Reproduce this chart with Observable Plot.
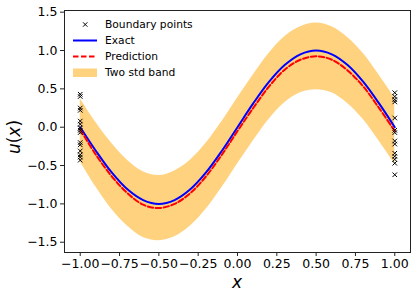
<!DOCTYPE html>
<html>
<head>
<meta charset="utf-8">
<script src="https://cdn.jsdelivr.net/npm/d3@7"></script>
<script src="https://cdn.jsdelivr.net/npm/@observablehq/plot@0.6"></script>
<style>
  html, body { margin: 0; padding: 0; background: #fff; }
  #chart { position: relative; width: 416px; height: 297px; }
</style>
</head>
<body>
<div id="chart"></div>
<script>
// x grid
const xs = [-1.0, -0.9, -0.8, -0.7, -0.6, -0.5, -0.4, -0.3, -0.2, -0.1, 0.0,
            0.1, 0.2, 0.3, 0.4, 0.5, 0.6, 0.7, 0.8, 0.9, 1.0];
// exact solution
const exactU = [0.00, -0.31, -0.59, -0.81, -0.95, -1.00, -0.95, -0.81, -0.59, -0.31, 0.00,
                0.31, 0.59, 0.81, 0.95, 1.00, 0.95, 0.81, 0.59, 0.31, 0.00];
// mean prediction
const predU = [-0.03, -0.36, -0.64, -0.86, -1.01, -1.055, -1.00, -0.86, -0.64, -0.36, -0.05,
               0.25, 0.53, 0.75, 0.88, 0.925, 0.88, 0.74, 0.53, 0.25, -0.05];
// two-std band
const bandLow = [-0.45, -0.78, -1.07, -1.29, -1.44, -1.48, -1.43, -1.29, -1.07, -0.79, -0.48,
                 -0.18, 0.10, 0.32, 0.45, 0.49, 0.45, 0.31, 0.10, -0.18, -0.48];
const bandHigh = [0.37, 0.06, -0.21, -0.43, -0.58, -0.63, -0.57, -0.43, -0.21, 0.07, 0.38,
                  0.68, 0.96, 1.18, 1.31, 1.36, 1.31, 1.17, 0.96, 0.68, 0.38];
// boundary observations
const bndX = [-1, -1, -1, -1, -1, -1, -1, -1, -1, -1, -1, -1, -1, -1, -1,
              1, 1, 1, 1, 1, 1, 1, 1, 1, 1, 1, 1, 1, 1];
const bndU = [0.43, 0.40, 0.25, 0.22, 0.08, 0.04, -0.01, -0.04, -0.07, -0.20, -0.23, -0.31, -0.36, -0.39, -0.43,
              0.45, 0.40, 0.36, 0.33, 0.12, -0.04, -0.07, -0.18, -0.22, -0.34, -0.38, -0.42, -0.47, -0.62];

const xTicks = [-1, -0.75, -0.5, -0.25, 0, 0.25, 0.5, 0.75, 1];
const yTicks = [-1.5, -1.0, -0.5, 0.0, 0.5, 1.0, 1.5];

const curve = xs.map((x, i) => ({x, exact: exactU[i], pred: predU[i], lo: bandLow[i], hi: bandHigh[i]}));
const pts = bndX.map((x, i) => ({x, u: bndU[i]}));

const W = 416, H = 297;
const fmtX = d3.format(".2f"), fmtY = d3.format(".1f");

const plot = Plot.plot({
  width: W, height: H,
  marginLeft: 64, marginRight: 6, marginTop: 10, marginBottom: 45,
  style: {fontFamily: "DejaVu Sans", fontSize: "12.5px", color: "#000", background: "#fff"},
  x: {domain: [-1.1, 1.1]},
  y: {domain: [-1.634, 1.522]},
  marks: [
    Plot.areaY(curve, {x: "x", y1: "lo", y2: "hi", fill: "#FFD280", curve: "catmull-rom"}),
    Plot.line(curve, {x: "x", y: "exact", stroke: "#0000FF", strokeWidth: 2, curve: "catmull-rom"}),
    Plot.line(curve, {x: "x", y: "pred", stroke: "#FF0000", strokeWidth: 2, strokeDasharray: "5.5,2.5", curve: "catmull-rom"}),
    Plot.dot(pts, {x: "x", y: "u", symbol: "times", r: 2.2, stroke: "#000", strokeWidth: 1}),
    Plot.frame({stroke: "#222", strokeWidth: 1}),
    Plot.axisX(xTicks, {tickSize: 4, tickPadding: 3, tickFormat: fmtX, fontSize: 12.5, label: null, stroke: "#222"}),
    Plot.axisY(yTicks, {tickSize: 4, tickPadding: 3, tickFormat: fmtY, fontSize: 12.5, label: null, stroke: "#222"})
  ]
});

const svg = d3.select(plot);
// axis titles
svg.append("text").attr("x", 237).attr("y", 288).attr("text-anchor", "middle")
  .attr("font-family", "DejaVu Sans").attr("font-style", "italic").attr("font-size", 17).text("x");
svg.append("text").attr("transform", "translate(20,137) rotate(-90)").attr("text-anchor", "middle")
  .attr("font-family", "DejaVu Sans").attr("font-size", 17)
  .html('<tspan font-style="italic">u</tspan>(<tspan font-style="italic">x</tspan>)');

// legend
const legendItems = [
  {label: "Boundary points", kind: "marker"},
  {label: "Exact", kind: "solid"},
  {label: "Prediction", kind: "dashed"},
  {label: "Two std band", kind: "patch"}
];
const lg = svg.append("g").attr("font-family", "DejaVu Sans").attr("font-size", 10.7).attr("text-anchor", "start");
legendItems.forEach((d, i) => {
  const cy = 24.5 + i * 16;
  const g = lg.append("g").attr("transform", `translate(0,${cy})`);
  if (d.kind === "marker") {
    g.append("path").attr("d", "M83,-2.2L87.4,2.2M83,2.2L87.4,-2.2").attr("stroke", "#000").attr("stroke-width", 1);
  } else if (d.kind === "solid") {
    g.append("line").attr("x1", 73).attr("x2", 97).attr("y1", 0).attr("y2", 0).attr("stroke", "#0000FF").attr("stroke-width", 2);
  } else if (d.kind === "dashed") {
    g.append("line").attr("x1", 73).attr("x2", 97).attr("y1", 0).attr("y2", 0).attr("stroke", "#FF0000").attr("stroke-width", 2).attr("stroke-dasharray", "5.5,2.5");
  } else {
    g.append("rect").attr("x", 73).attr("y", -4).attr("width", 24).attr("height", 8.5).attr("fill", "#FFD280");
  }
  g.append("text").attr("x", 105).attr("y", 0).attr("dy", "0.35em").attr("text-anchor", "start").text(d.label);
});

document.getElementById("chart").appendChild(plot);
</script>
</body>
</html>
